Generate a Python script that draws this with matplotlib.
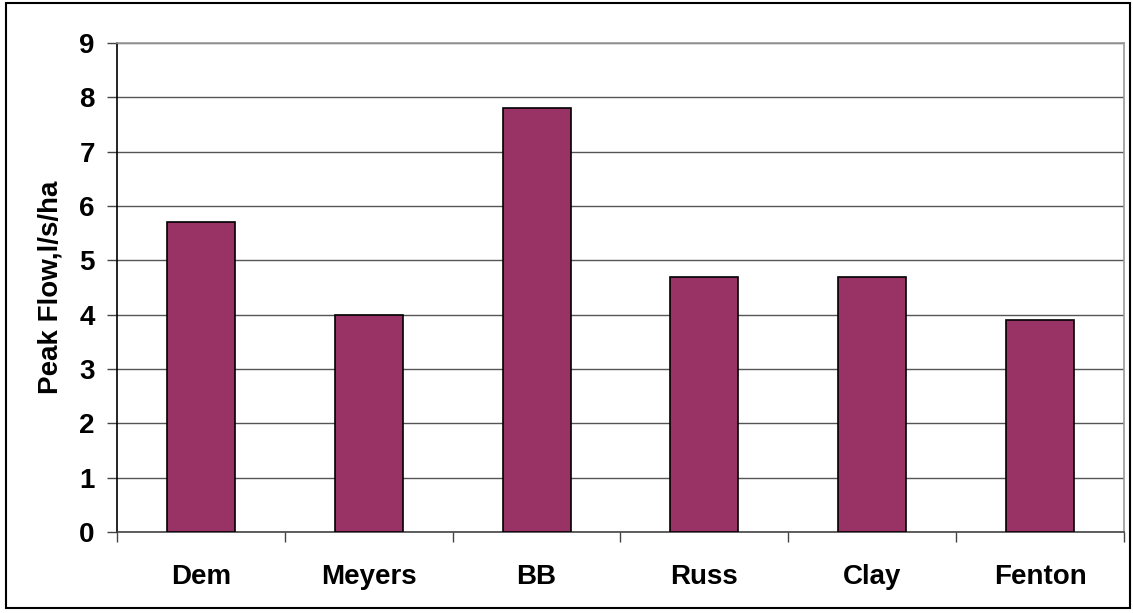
import numpy as np
import matplotlib.pyplot as plt
from matplotlib.patches import Rectangle

sites = ['Dem', 'Meyers', 'BB', 'Russ', 'Clay', 'Fenton']
peak_flow = [5.7, 4.0, 7.8, 4.7, 4.7, 3.9]
yticks = [0, 1, 2, 3, 4, 5, 6, 7, 8, 9]

plt.rcParams['font.family'] = ['Liberation Sans', 'DejaVu Sans']
plt.rcParams['font.weight'] = 'bold'

fig = plt.figure(figsize=(11.33, 6.13), dpi=100)
ax = fig.add_axes([117/1133, 1 - 532/613, (1124-117)/1133, (532-43)/613])

x = np.arange(len(sites))
ax.bar(x, peak_flow, width=0.405, color='#993366', edgecolor='black', linewidth=1.2, zorder=3)

ax.set_xlim(-0.5, len(sites) - 0.5)
ax.set_ylim(0, 9)
ax.set_yticks(yticks)
ax.set_yticklabels([str(t) for t in yticks], fontsize=20, fontweight='bold')
ax.set_xticks(x)
ax.set_xticklabels(sites, fontsize=20, fontweight='bold')
ax.tick_params(axis='x', length=0, pad=23)
ax.tick_params(axis='y', length=7, width=1, pad=9, color='#444444')
ax.set_xticks(np.arange(-0.5, len(sites)), minor=True)
ax.tick_params(axis='x', which='minor', length=7, width=1, color='#444444', direction='out')

ax.yaxis.grid(True, color='#555555', linewidth=1, zorder=1)
ax.spines['left'].set_color('black')
ax.spines['bottom'].set_color('#444444')
ax.spines['top'].set_color('#999999')
ax.spines['right'].set_color('#999999')
for s in ax.spines.values():
    s.set_linewidth(1.2)

ax.set_ylabel('Peak Flow,l/s/ha', fontsize=20, fontweight='bold', labelpad=11)

fig.patches.append(Rectangle((6/1133, 1 - 608/613), 1124/1133, 605/613, transform=fig.transFigure,
                             fill=False, edgecolor='black', linewidth=1.5))

fig.savefig('out.png', dpi=100)
